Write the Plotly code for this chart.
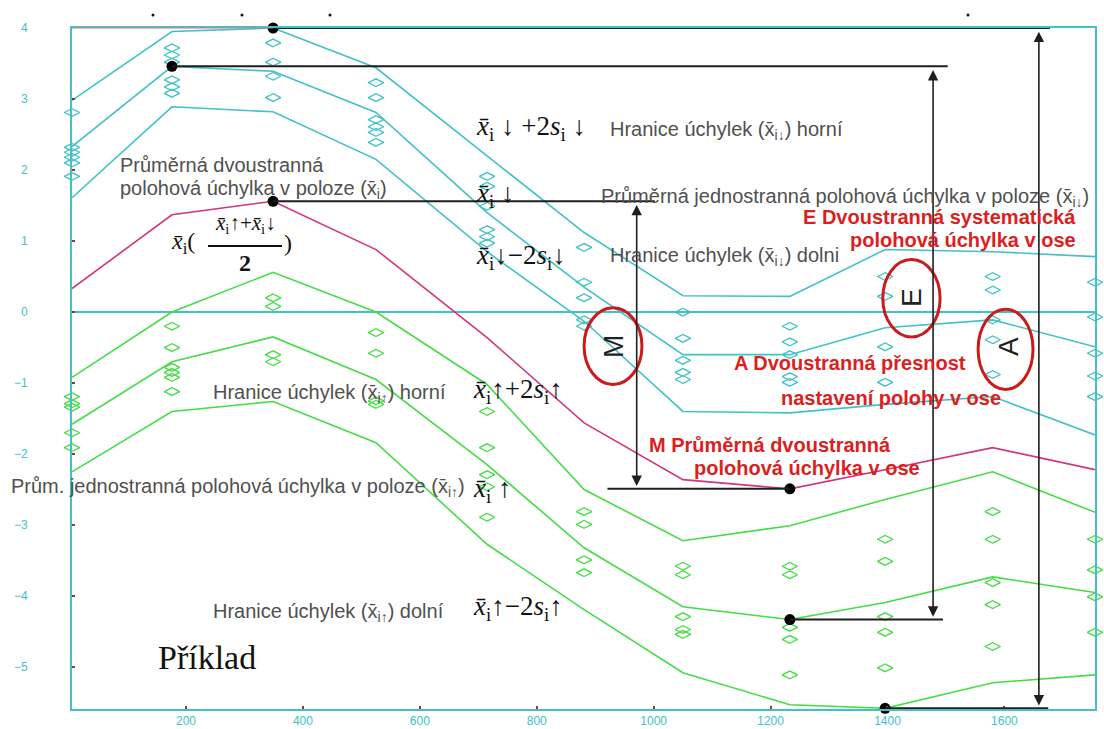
import plotly.graph_objects as go

# Measurement positions along the axis
positions = [5, 176, 349, 525, 715, 881, 1050, 1233, 1396, 1580, 1755]

# Individual positional deviations, approach in the negative direction (↓)
dev_down = [
    [2.81, 2.32, 2.25, 2.18, 2.10, 1.91],
    [3.72, 3.62, 3.52, 3.27, 3.17, 3.08],
    [3.79, 3.52, 3.32, 3.02],
    [3.23, 3.02, 2.71, 2.61, 2.53, 2.39],
    [1.91, 1.77, 1.49, 1.16, 1.06, 0.97],
    [0.91, 0.42, 0.20, -0.11, -0.20],
    [0.00, -0.37, -0.68, -0.85, -0.95],
    [-0.20, -0.42, -0.60, -0.91, -0.99],
    [0.50, 0.22, -0.49, -0.99],
    [0.50, 0.31, -0.11, -0.39, -0.88],
    [0.42, -0.07, -0.58, -0.90, -1.19],
]

# Individual positional deviations, approach in the positive direction (↑)
dev_up = [
    [-1.19, -1.29, -1.34, -1.70, -1.91],
    [-0.20, -0.50, -0.78, -0.85, -0.92, -1.12],
    [0.20, 0.08, -0.60, -0.70],
    [-0.29, -0.58, -1.25, -1.30],
    [-1.40, -1.91, -2.29, -2.46, -2.89],
    [-2.81, -2.99, -3.49, -3.67],
    [-3.58, -3.70, -4.29, -4.47, -4.54],
    [-3.58, -3.70, -4.44, -4.61, -5.11],
    [-3.20, -3.51, -4.29, -4.51, -5.01],
    [-2.81, -3.20, -3.81, -4.12, -4.71],
    [-3.20, -3.63, -4.01, -4.51],
]

# Mean values and ±2s limits for each direction, and the two-sided mean
down_upper = [2.98, 3.95, 4.00, 3.44, 2.20, 1.12, 0.23, 0.22, 0.88, 0.85, 0.78]
down_mean = [2.33, 3.46, 3.39, 2.81, 1.40, 0.35, -0.60, -0.60, -0.22, -0.11, -0.49]
down_lower = [1.61, 2.89, 2.82, 2.15, 0.85, -0.13, -1.40, -1.42, -1.30, -1.19, -1.73]
two_sided_mean = [0.33, 1.37, 1.56, 0.88, -0.36, -1.56, -2.36, -2.49, -2.22, -1.91, -2.22]
up_upper = [-0.92, 0.00, 0.56, 0.00, -1.02, -2.50, -3.22, -3.01, -2.64, -2.25, -2.82]
up_mean = [-1.58, -0.70, -0.35, -0.95, -2.15, -3.32, -4.15, -4.33, -4.09, -3.73, -3.95]
up_lower = [-2.25, -1.40, -1.26, -1.84, -3.27, -4.19, -5.08, -5.53, -5.58, -5.22, -5.11]

x_ticks = [200, 400, 600, 800, 1000, 1200, 1400, 1600]
y_ticks = [-5, -4, -3, -2, -1, 0, 1, 2, 3, 4]

CYAN = "#40C2C6"
GREEN = "#46DC46"
MAGENTA = "#D2357F"
RED = "#DD1E1E"
GRAY = "#505050"
SANS = "Liberation Sans, Arial, sans-serif"
SERIF = "Liberation Serif, Times New Roman, serif"

W, H = 1104, 729
L, R, T, B = 72, 9, 28, 20
PW, PH = W - L - R, H - T - B


def px(xp):
    return (xp - L) / PW


def py(yp):
    return (H - B - yp) / PH


fig = go.Figure()


def scatter_points(groups, color):
    xs, ys = [], []
    for x, vals in zip(positions, groups):
        for v in vals:
            xs.append(x)
            ys.append(v)
    fig.add_trace(go.Scatter(
        x=xs, y=ys, mode="markers", cliponaxis=False,
        marker=dict(symbol="diamond-wide-open", size=11, color=color,
                    line=dict(width=1.3, color=color)),
        showlegend=False, hoverinfo="skip"))


scatter_points(dev_down, CYAN)
scatter_points(dev_up, GREEN)

for series, color in [(down_upper, CYAN), (down_mean, CYAN), (down_lower, CYAN),
                      (up_upper, GREEN), (up_mean, GREEN), (up_lower, GREEN),
                      (two_sided_mean, MAGENTA)]:
    fig.add_trace(go.Scatter(x=positions, y=series, mode="lines", cliponaxis=False,
                             line=dict(color=color, width=1.6),
                             showlegend=False, hoverinfo="skip"))


def argext(series, fn):
    v = fn(series)
    return positions[series.index(v)], v


# extreme points used for the E, A and M spans
top_a = argext(down_upper, max)
bot_a = argext(up_lower, min)
top_e = argext(down_mean, max)
bot_e = argext(up_mean, min)
top_m = argext(two_sided_mean, max)
bot_m = argext(two_sided_mean, min)

A_X, E_X, M_X = 1659, 1478, 971

# horizontal reference lines from the extremes
ref_lines = [
    (top_a[0], 1678, top_a[1]),
    (bot_a[0], 1675, bot_a[1]),
    (top_e[0], 1503, top_e[1]),
    (bot_e[0], 1495, bot_e[1]),
    (top_m[0], 1002, top_m[1]),
    (921, bot_m[0], bot_m[1]),
]
for x0, x1, yv in ref_lines:
    fig.add_shape(type="line", x0=x0, x1=x1, y0=yv, y1=yv, xref="x", yref="y",
                  line=dict(color="#1e1e1e", width=2), layer="above")

# double-headed span arrows
for xa, (_, y_top), (_, y_bot) in [(A_X, top_a, bot_a), (E_X, top_e, bot_e),
                                   (M_X, top_m, bot_m)]:
    fig.add_annotation(x=xa, y=y_bot + 0.04, ax=xa, ay=y_top - 0.03,
                       xref="x", yref="y", axref="x", ayref="y", text="",
                       showarrow=True, arrowhead=2, startarrowhead=2,
                       arrowside="end+start", arrowsize=1.3, startarrowsize=1.3,
                       arrowwidth=1.6, arrowcolor="#1e1e1e", standoff=0, startstandoff=0)

fig.add_trace(go.Scatter(
    x=[p[0] for p in (top_a, bot_a, top_e, bot_e, top_m, bot_m)],
    y=[p[1] for p in (top_a, bot_a, top_e, bot_e, top_m, bot_m)],
    mode="markers", cliponaxis=False,
    marker=dict(size=11, color="#000000"), showlegend=False, hoverinfo="skip"))

# red ellipses marking E, A, M
for x0, x1, y0, y1 in [(881, 980, 0.06, -1.02), (1392, 1490, 0.74, -0.35),
                       (1555, 1649, 0.04, -1.09)]:
    fig.add_shape(type="circle", x0=x0, x1=x1, y0=y0, y1=y1, xref="x", yref="y",
                  line=dict(color="#CC1A1A", width=3), layer="above")

# thin coloured segment at the top-left edge
fig.add_shape(type="line", x0=px(72), x1=px(273), y0=py(28), y1=py(28),
              xref="paper", yref="paper", line=dict(color="#D07A8A", width=1.2))

# small stray marks above the plot
for xm in [153, 242, 330, 968]:
    fig.add_shape(type="circle", x0=px(xm - 1.5), x1=px(xm + 1.5), y0=py(13.5), y1=py(16.5),
                  xref="paper", yref="paper", fillcolor="#111", line=dict(width=0))


def label(text, xp, yp, anchor="left", size=20, color=GRAY, family=SANS, angle=0):
    fig.add_annotation(x=px(xp), y=py(yp), xref="paper", yref="paper", text=text,
                       showarrow=False, xanchor=anchor, yanchor="middle",
                       textangle=angle, borderpad=0,
                       font=dict(size=size, color=color, family=family))


def xs(arrow=""):
    return f"x\u0304<sub>i{arrow}</sub>"


# gray descriptive labels
label(f"Hranice úchylek ({xs('↓')}) horní", 609, 130)
label("Průměrná dvoustranná", 119, 165)
label(f"polohová úchylka v poloze ({xs()})", 119, 190)
label(f"Průměrná jednostranná polohová úchylka v poloze ({xs('↓')})", 600, 197)
label(f"Hranice úchylek ({xs('↓')}) dolni", 609, 256)
label(f"Hranice úchylek ({xs('↑')}) horní", 212, 394)
label(f"Prům. jednostranná polohová úchylka v poloze ({xs('↑')})", 10, 487)
label(f"Hranice úchylek ({xs('↑')}) dolní", 212, 612)

# formula labels
XI = "<i>x\u0304</i><sub>i</sub>"
SI = "<i>s</i><sub>i</sub>"
FS = 27
label(f"{XI} ↓ +2{SI} ↓", 475, 128, size=FS, color="#111", family=SERIF)
label(f"{XI} ↓", 475, 195, size=FS, color="#111", family=SERIF)
label(f"{XI}↓−2{SI}↓", 475, 257, size=FS, color="#111", family=SERIF)
label(f"{XI}↑+2{SI}↑", 472, 391, size=FS, color="#111", family=SERIF)
label(f"{XI} ↑", 472, 490, size=FS, color="#111", family=SERIF)
label(f"{XI}↑−2{SI}↑", 472, 608, size=FS, color="#111", family=SERIF)

# two-sided mean formula with a drawn fraction bar
label(f"{XI}(", 170, 243, size=24, color="#111", family=SERIF)
label(f"{XI}↑+{XI}↓", 245, 224, anchor="center", size=21, color="#111", family=SERIF)
label("<b>2</b>", 245, 263, anchor="center", size=24, color="#111", family=SERIF)
label(")", 283, 243, size=24, color="#111", family=SERIF)
fig.add_shape(type="line", x0=px(208), x1=px(282), y0=py(246), y1=py(246),
              xref="paper", yref="paper", line=dict(color="#111", width=2))

label("Příklad", 157, 657, size=34, color="#111", family=SERIF)

# red explanatory labels
RS = 20
label("<b>E Dvoustranná systematická</b>", 1077, 217, anchor="right", size=RS, color=RED)
label("<b>polohová úchylka v ose</b>", 1077, 240, anchor="right", size=RS, color=RED)
label("<b>A Dvoustranná přesnost</b>", 733, 363, size=RS, color=RED)
label("<b>nastavení polohy v ose</b>", 780, 398, size=RS, color=RED)
label("<b>M Průměrná dvoustranná</b>", 648, 445, size=RS, color=RED)
label("<b>polohová úchylka v ose</b>", 693, 468, size=RS, color=RED)

# rotated letters inside the ellipses
label("M", 613, 347, anchor="center", size=28, color="#222", angle=-90)
label("E", 911, 298, anchor="center", size=28, color="#222", angle=-90)
label("A", 1008, 347, anchor="center", size=28, color="#222", angle=-90)

fig.update_layout(
    width=W, height=H,
    margin=dict(l=L, r=R, t=T, b=B, autoexpand=False),
    paper_bgcolor="white", plot_bgcolor="white",
    showlegend=False,
    xaxis=dict(range=[5, 1755], showgrid=False, zeroline=False,
               showline=True, linecolor=CYAN, linewidth=2, mirror=True,
               tickvals=x_ticks, ticks="inside", ticklen=3, tickwidth=2,
               tickcolor="#8B3A3A", tickfont=dict(size=12, color=CYAN, family=SANS)),
    yaxis=dict(range=[-5.59, 4.0], showgrid=False,
               zeroline=True, zerolinecolor=CYAN, zerolinewidth=2,
               showline=True, linecolor=CYAN, linewidth=2, mirror=True,
               tickvals=y_ticks, ticks="inside", ticklen=3, tickwidth=2,
               tickcolor="#8B3A3A", ticklabelstandoff=40,
               tickfont=dict(size=12, color=CYAN, family=SANS)),
)

fig.write_html("out.html")
